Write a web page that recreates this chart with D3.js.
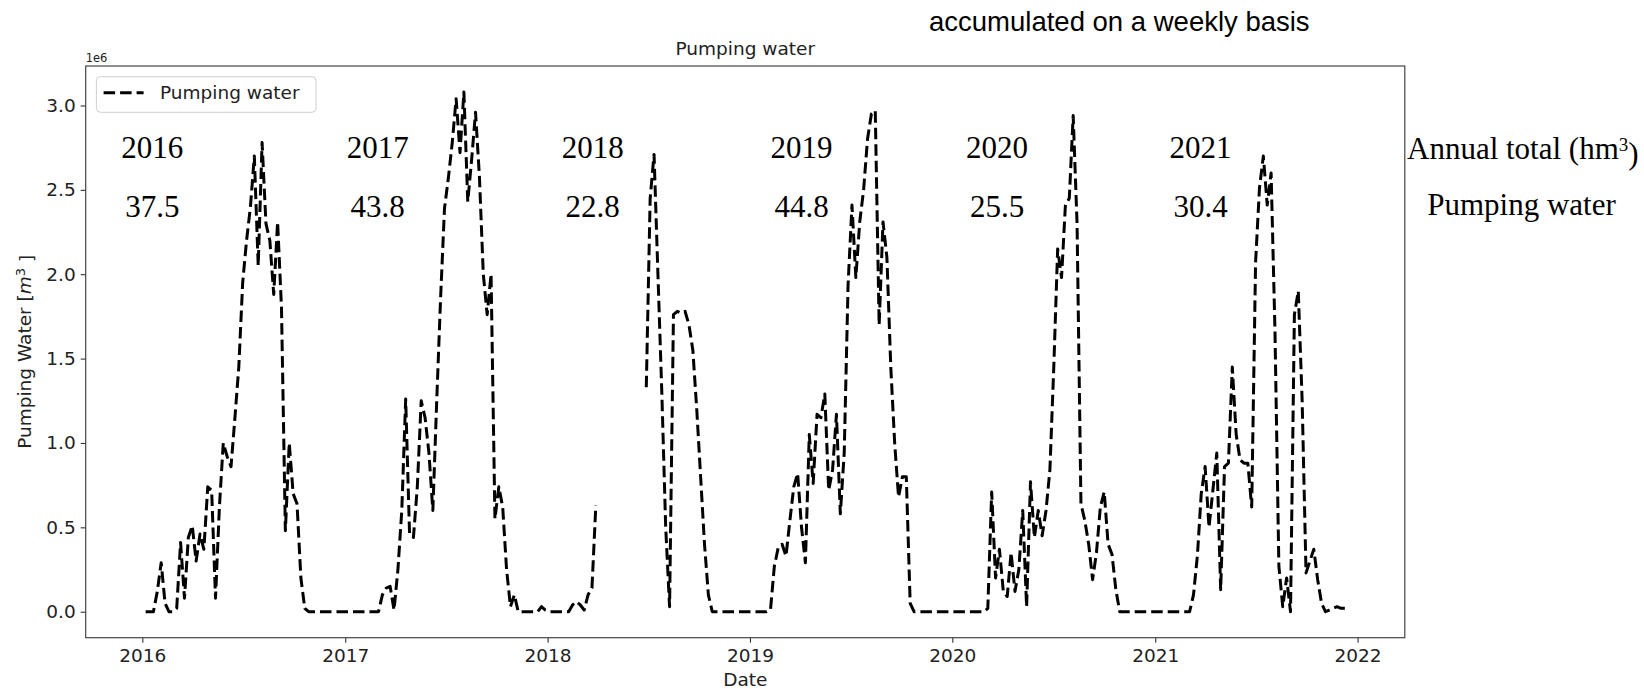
<!DOCTYPE html>
<html lang="en">
<head>
<meta charset="UTF-8">
<title>Pumping water</title>
<script src="https://cdn.jsdelivr.net/npm/d3@7"></script>
<style>
	body { margin: 0; background: #fff; }
	svg { display: block; }
</style>
</head>
<body>
<script>
	// weekly pumped volume, in 1e6 m3, first week starts on startDate (null = no record)
	var startDate = "2016-01-07";
	var pumping = [
		0, 0, 0, 0.12, 0.29, 0.05, 0, 0, 0.02, 0.41,
		0.08, 0.44, 0.51, 0.30, 0.46, 0.37, 0.74, 0.72, 0.08, 0.62,
		1.0, 0.92, 0.86, 1.15, 1.45, 1.95, 2.2, 2.4, 2.7, 2.05,
		2.78, 2.3, 2.2, 1.88, 2.31, 1.8, 0.48, 1.0, 0.7, 0.64,
		0.2, 0.02, 0, 0, 0, 0, 0, 0, 0, 0,
		0, 0, 0, 0, 0, 0, 0, 0, 0, 0,
		0, 0.1, 0.14, 0.15, 0.01, 0.25, 0.6, 1.26, 0.46, 0.44,
		0.74, 1.25, 1.15, 0.94, 0.6, 1.25, 1.86, 2.39, 2.57, 2.78,
		3.04, 2.72, 3.08, 2.43, 2.68, 2.96, 2.58, 2.0, 1.76, 2.0,
		0.55, 0.74, 0.62, 0.25, 0.03, 0.1, 0, 0, 0, 0,
		0, 0, 0.03, 0.01, 0, 0, 0, 0, 0, 0,
		0.04, 0.06, 0.04, 0.01, 0.1, 0.14, 0.63, null, null, null,
		null, null, null, null, null, null, null, null, null, 1.33,
		2.45, 2.71, 2.0, 1.3, 0.5, 0.03, 1.76, 1.78, 1.77, 1.78,
		1.7, 1.55, 1.2, 0.8, 0.4, 0.1, 0, 0, 0, 0,
		0, 0, 0, 0, 0, 0, 0, 0, 0, 0,
		0, 0.01, 0.27, 0.38, 0.4, 0.33, 0.54, 0.74, 0.82, 0.5,
		0.29, 1.05, 0.76, 1.17, 1.15, 1.29, 0.72, 0.84, 1.17, 0.58,
		0.94, 1.94, 2.41, 1.98, 2.31, 2.5, 2.8, 2.95, 2.97, 1.7,
		2.31, 2.1, 1.45, 1.0, 0.68, 0.8, 0.8, 0.05, 0, 0,
		0, 0, 0, 0, 0, 0, 0, 0, 0, 0,
		0, 0, 0, 0, 0, 0, 0, 0.02, 0.71, 0.2,
		0.37, 0.12, 0.09, 0.35, 0.12, 0.25, 0.6, 0.03, 0.77, 0.44,
		0.6, 0.45, 0.6, 0.84, 1.45, 2.15, 1.98, 2.41, 2.45, 2.94,
		2.3, 0.64, 0.54, 0.4, 0.19, 0.35, 0.62, 0.71, 0.4, 0.34,
		0.13, 0, 0, 0, 0, 0, 0, 0, 0, 0,
		0, 0, 0, 0, 0, 0, 0, 0, 0, 0,
		0.1, 0.33, 0.7, 0.86, 0.5, 0.72, 0.94, 0.13, 0.86, 0.88,
		1.45, 1.05, 0.9, 0.88, 0.88, 0.62, 2.07, 2.51, 2.7, 2.41,
		2.6, 1.66, 0.27, 0.03, 0.2, 0, 1.76, 1.9, 1.25, 0.23,
		0.3, 0.37, 0.19, 0.05, 0, 0.01, 0.02, 0.03, 0.02, 0.02
	];
	// annual totals (hm3) written over the chart
	var years = ["2016", "2017", "2018", "2019", "2020", "2021"];
	var annualTotals = ["37.5", "43.8", "22.8", "44.8", "25.5", "30.4"];
	var yTicks = [0, 0.5, 1.0, 1.5, 2.0, 2.5, 3.0];
	var xTickYears = [2016, 2017, 2018, 2019, 2020, 2021, 2022];

	// layout
	var width = 1644, height = 689;
	var plot = {left: 85.7, right: 1404.8, top: 66, bottom: 637.7};
	var labelX = [152.3, 377.7, 592.7, 801.6, 997, 1200.5];
	var sans = "'DejaVu Sans', sans-serif";
	var serif = "'Liberation Serif', 'DejaVu Serif', serif";

	var svg = d3.select("body").append("svg").attr("width", width).attr("height", height);

	// points
	var t0 = d3.isoParse(startDate + "T00:00:00Z");
	var data = pumping.map(function (v, i) {
		return {date: d3.utcDay.offset(t0, 7 * i), v: v};
	});

	// scales with matplotlib-like 5% margins
	var tExt = d3.extent(data, function (d) { return +d.date; });
	var tPad = (tExt[1] - tExt[0]) * 0.05;
	var x = d3.scaleUtc()
		.domain([new Date(tExt[0] - tPad), new Date(tExt[1] + tPad)])
		.range([plot.left, plot.right]);
	var vMax = d3.max(pumping);
	var y = d3.scaleLinear()
		.domain([-vMax * 0.05, vMax * 1.05])
		.range([plot.bottom, plot.top]);

	// axes
	var xAxis = d3.axisBottom(x)
		.tickValues(xTickYears.map(function (yr) { return new Date(Date.UTC(yr, 0, 1)); }))
		.tickFormat(d3.utcFormat("%Y"))
		.tickSize(5).tickPadding(6);
	var yAxis = d3.axisLeft(y)
		.tickValues(yTicks)
		.tickFormat(d3.format(".1f"))
		.tickSize(5).tickPadding(5);

	var gx = svg.append("g").attr("transform", "translate(0," + plot.bottom + ")").call(xAxis);
	var gy = svg.append("g").attr("transform", "translate(" + plot.left + ",0)").call(yAxis);
	[gx, gy].forEach(function (g) {
		g.select(".domain").remove();
		g.selectAll(".tick line").attr("stroke", "#333").attr("stroke-width", 1.1);
		g.selectAll(".tick text").attr("fill", "#222")
			.style("font-family", sans).style("font-size", "18.5px");
	});

	// frame
	svg.append("rect")
		.attr("x", plot.left).attr("y", plot.top)
		.attr("width", plot.right - plot.left).attr("height", plot.bottom - plot.top)
		.attr("fill", "none").attr("stroke", "#444").attr("stroke-width", 1.2);

	// line
	var line = d3.line()
		.defined(function (d) { return d.v != null; })
		.x(function (d) { return x(d.date); })
		.y(function (d) { return y(d.v); });
	svg.append("path")
		.datum(data)
		.attr("d", line)
		.attr("fill", "none")
		.attr("stroke", "#000")
		.attr("stroke-width", 3)
		.attr("stroke-dasharray", "11.5,5")
		.attr("stroke-linejoin", "round");

	// titles
	svg.append("text").attr("x", (plot.left + plot.right) / 2).attr("y", 55)
		.attr("text-anchor", "middle").attr("fill", "#222")
		.style("font-family", sans).style("font-size", "18.5px")
		.text("Pumping water");
	svg.append("text").attr("x", plot.left).attr("y", 61.5)
		.attr("fill", "#222")
		.style("font-family", sans).style("font-size", "11.5px")
		.text("1e6");
	svg.append("text").attr("x", (plot.left + plot.right) / 2).attr("y", 686)
		.attr("text-anchor", "middle").attr("fill", "#222")
		.style("font-family", sans).style("font-size", "18.5px")
		.text("Date");
	var ylab = svg.append("text")
		.attr("transform", "translate(31," + (plot.top + plot.bottom) / 2 + ") rotate(-90)")
		.attr("text-anchor", "middle").attr("fill", "#222")
		.style("font-family", sans).style("font-size", "18.5px");
	ylab.append("tspan").text("Pumping Water [");
	ylab.append("tspan").style("font-style", "italic").text("m");
	ylab.append("tspan").attr("dy", "-0.45em").style("font-size", "13px").text("3");
	ylab.append("tspan").attr("dy", "0.45em").text(" ]");

	svg.append("text").attr("x", 929).attr("y", 30.5)
		.attr("fill", "#000")
		.style("font-family", "'Liberation Sans', Arial, sans-serif").style("font-size", "27.5px")
		.text("accumulated on a weekly basis");

	// legend
	var lg = svg.append("g");
	lg.append("rect").attr("x", 96.4).attr("y", 76.7).attr("width", 219.6).attr("height", 35.6)
		.attr("rx", 4).attr("fill", "#fff").attr("stroke", "#d0d0d0").attr("stroke-width", 1);
	lg.append("line").attr("x1", 103.6).attr("x2", 143.6).attr("y1", 92.7).attr("y2", 92.7)
		.attr("stroke", "#000").attr("stroke-width", 3).attr("stroke-dasharray", "11.5,5");
	lg.append("text").attr("x", 160).attr("y", 98.5).attr("fill", "#222")
		.style("font-family", sans).style("font-size", "18.5px")
		.text("Pumping water");

	// annual total annotations
	var ann = svg.append("g").style("font-family", serif).style("font-size", "31px").attr("fill", "#000");
	ann.selectAll("text.year").data(years).enter().append("text")
		.attr("class", "year")
		.attr("x", function (d, i) { return labelX[i]; })
		.attr("y", 158)
		.attr("text-anchor", "middle")
		.text(function (d) { return d; });
	ann.selectAll("text.total").data(annualTotals).enter().append("text")
		.attr("class", "total")
		.attr("x", function (d, i) { return labelX[i]; })
		.attr("y", 216.5)
		.attr("text-anchor", "middle")
		.text(function (d) { return d; });
	var at = ann.append("text").attr("x", 1407).attr("y", 159);
	at.append("tspan").text("Annual total (hm");
	at.append("tspan").attr("dy", "-0.4em").style("font-size", "19px").text("3");
	at.append("tspan").attr("dy", "0.4em").text(")");
	ann.append("text").attr("x", 1521.5).attr("y", 214.5).attr("text-anchor", "middle")
		.text("Pumping water");
</script>
</body>
</html>
